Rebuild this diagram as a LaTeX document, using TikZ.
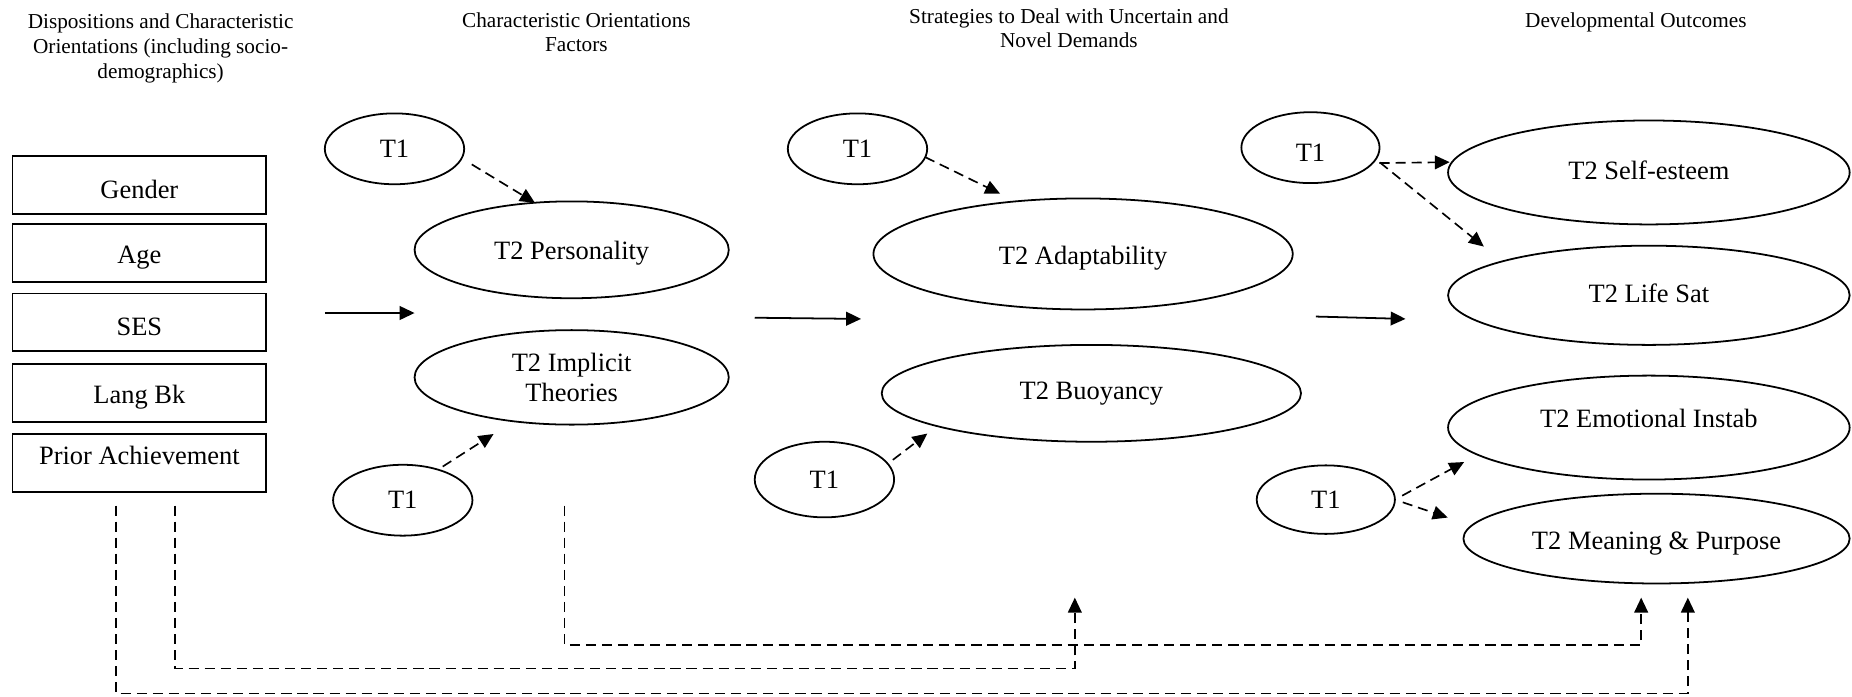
\documentclass[tikz,border=0pt]{standalone}
\usepackage{fontspec}
\setmainfont{Liberation Serif}
\usetikzlibrary{arrows.meta,shapes.geometric}
\begin{document}
\begin{tikzpicture}[x=0.5pt,y=-0.5pt,
  every node/.style={inner sep=0pt, outer sep=0pt},
  heading/.style={anchor=north, align=center, font=\fontsize{9}{10.5}\selectfont},
  varbox/.style={draw, line width=0.8pt, rectangle, minimum width=107.4pt,
    minimum height=24.5pt, text height=11.5pt, font=\fontsize{11.2}{13}\selectfont},
  latent/.style={draw, line width=0.75pt, ellipse, align=center,
    font=\fontsize{11.2}{12.7}\selectfont},
  headtip/.style={-{Triangle[length=6.3pt,width=5.8pt]}},
  flow/.style={headtip, line width=0.75pt},
  link/.style={headtip, line width=0.7pt, dash pattern=on 4.3pt off 2.5pt},
]
\useasboundingbox (0,0) rectangle (1568,590);

% column headings
\node[heading] (h1) at (136,12) {Dispositions and Characteristic\\Orientations (including socio-\\demographics)};
\node[heading] (h2) at (488,10.5) {Characteristic Orientations\\Factors};
\node[heading] (h3) at (905,7) {Strategies to Deal with Uncertain and\\Novel Demands};
\node[heading] (h4) at (1385,10.5) {Developmental Outcomes};

% observed background variables
\node[varbox] (gender) at (118,156.5) {Gender};
\node[varbox] (age)    at (118,214)   {Age};
\node[varbox] (ses)    at (118,273)   {SES};
\node[varbox] (lang)   at (118,332.5) {Lang Bk};
\node[varbox, text depth=10.25pt] (prior) at (118,392) {Prior Achievement};

% characteristic orientations
\node[latent, minimum width=59pt, minimum height=30pt] (T1a) at (334,126) {T1};
\node[latent, minimum width=133pt, minimum height=41pt, text height=10.6pt] (pers) at (484,211.5) {T2 Personality};
\node[latent, minimum width=133pt, minimum height=40pt] (impl) at (484,319.5) {T2 Implicit\\Theories};
\node[latent, minimum width=59pt, minimum height=30pt] (T1b) at (341,423.5) {T1};

% strategies
\node[latent, minimum width=59pt, minimum height=30pt] (T1c) at (726,126) {T1};
\node[latent, minimum width=177.5pt, minimum height=47pt, text height=11.4pt] (adapt) at (917,215) {T2 Adaptability};
\node[latent, minimum width=177.5pt, minimum height=41pt] (buoy) at (924,333) {T2 Buoyancy};
\node[latent, minimum width=59pt, minimum height=32pt] (T1d) at (698,406) {T1};

% developmental outcomes
\node[latent, minimum width=58.5pt, minimum height=30pt, text height=12pt] (T1e) at (1109.5,125) {T1};
\node[latent, minimum width=170pt, minimum height=44pt, text height=5.8pt] (self) at (1396,146) {T2 Self-esteem};
\node[latent, minimum width=170pt, minimum height=42pt, text height=6.2pt] (life) at (1396,250) {T2 Life Sat};
\node[latent, minimum width=170pt, minimum height=44pt, text depth=8pt] (emo) at (1396,362) {T2 Emotional Instab};
\node[latent, minimum width=163.5pt, minimum height=38pt, text height=11.4pt] (mean) at (1402.5,456) {T2 Meaning \& Purpose};
\node[latent, minimum width=58.5pt, minimum height=29pt] (T1f) at (1122.5,423) {T1};

% main paths between the columns
\coordinate (s1) at (275,265);  \coordinate (e1) at (351,265);
\coordinate (s2) at (639,269);  \coordinate (e2) at (729,270);
\coordinate (s3) at (1114,268); \coordinate (e3) at (1190,270);
\draw[flow] (s1) -- (e1);
\draw[flow] (s2) -- (e2);
\draw[flow] (s3) -- (e3);

% autoregressive T1 controls
\draw[link, shorten <=5pt] (T1a.-8) -- (pers.128);
\draw[link, shorten <=2.4pt, shorten >=10pt] (T1b.41) -- (impl.217);
\draw[link, shorten >=7.4pt] (T1c.-7) -- (adapt.142);
\draw[link, shorten <=2.7pt, shorten >=5.2pt] (T1d.14) -- (buoy.192);
\draw[link, shorten <=2.9pt, shorten >=1pt] (T1e.-14) -- (self.177);
\draw[link, shorten <=2.2pt, shorten >=10pt] (T1e.-10) -- (life.167);
\draw[link, shorten <=3.5pt, shorten >=6.5pt] (T1f.0) -- (emo.189);
\draw[link, shorten <=3.5pt, shorten >=10.7pt] (T1f.0) -- (mean.176);

% direct paths running underneath
\coordinate (dA) at (478,428);  \coordinate (uA) at (1389.5,506);
\coordinate (dB) at (148,428);  \coordinate (uB) at (910,506);
\coordinate (dC) at (98,428);   \coordinate (uC) at (1429,506);
\draw[link] (dA) -- ++(0,118) -| (uA);
\draw[link] (dB) -- ++(0,138) -| (uB);
\draw[link] (dC) -- ++(0,159) -| (uC);
\end{tikzpicture}
\end{document}
